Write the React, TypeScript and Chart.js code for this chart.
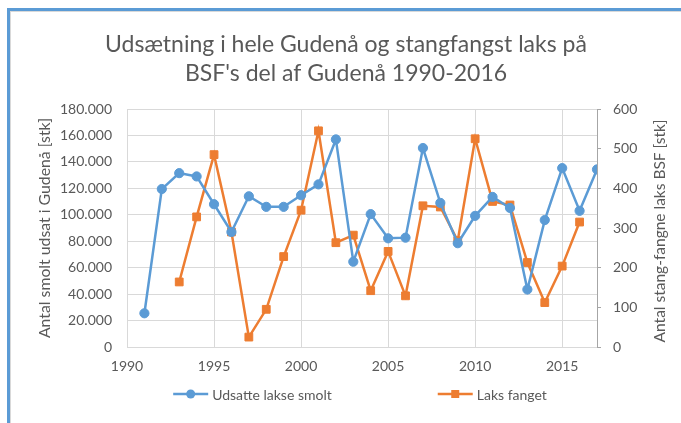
import React, { useEffect, useRef } from 'react';
import { Chart, registerables } from 'chart.js';

Chart.register(...registerables);

const chartTitle = ['Udsætning i hele Gudenå og stangfangst laks på', "BSF's del af Gudenå 1990-2016"];
const leftAxisTitle = 'Antal smolt udsat i Gudenå [stk]';
const rightAxisTitle = 'Antal stang-fangne laks BSF [stk]';
const smoltLabel = 'Udsatte lakse smolt';
const laksLabel = 'Laks fanget';

const smoltYears = [1991, 1992, 1993, 1994, 1995, 1996, 1997, 1998, 1999, 2000, 2001, 2002, 2003, 2004, 2005, 2006, 2007, 2008, 2009, 2010, 2011, 2012, 2013, 2014, 2015, 2016, 2017];
const smoltValues = [25500, 119500, 131500, 129000, 108000, 87000, 114000, 106000, 106000, 114800, 123000, 157000, 64500, 100500, 82200, 82700, 150500, 109000, 78500, 99200, 113500, 105200, 43500, 96000, 135300, 103000, 134300];

const laksYears = [1993, 1994, 1995, 1996, 1997, 1998, 1999, 2000, 2001, 2002, 2003, 2004, 2005, 2006, 2007, 2008, 2009, 2010, 2011, 2012, 2013, 2014, 2015, 2016];
const laksValues = [164, 328, 485, 290, 25, 95, 228, 345, 545, 263, 282, 142, 241, 129, 356, 353, 268, 525, 367, 358, 213, 112, 204, 315];

const xTickValues = [1990, 1995, 2000, 2005, 2010, 2015];
const xMin = 1990;
const xMax = 2017;
const leftMax = 180000;
const leftStep = 20000;
const rightMax = 600;
const rightStep = 100;

const BLUE = '#5B9BD5';
const ORANGE = '#ED7D31';
const TEXT = '#595959';
const GRID = '#D9D9D9';
const FONT = 'Lato';

const fmtThousands = (v: number) => String(v).replace(/\B(?=(\d{3})+(?!\d))/g, '.');

const extrasPlugin = {
  id: 'extras',
  afterDraw(chart: any) {
    const ctx = chart.ctx;
    const ca = chart.chartArea;
    ctx.save();
    // right axis title (reads bottom-to-top)
    ctx.fillStyle = TEXT;
    ctx.font = `15.5px ${FONT}`;
    ctx.textAlign = 'center';
    ctx.textBaseline = 'middle';
    ctx.translate(649, (ca.top + ca.bottom) / 2 + 3);
    ctx.rotate(-Math.PI / 2);
    ctx.fillText(rightAxisTitle, 0, 0);
    ctx.restore();

    // legend
    ctx.save();
    ctx.font = `14px ${FONT}`;
    ctx.textBaseline = 'middle';
    ctx.textAlign = 'left';
    const ds = chart.data.datasets;
    const lineLen = 35;
    const textGap = 4;
    const itemGap = 106;
    const widths = ds.map((d: any) => lineLen + textGap + ctx.measureText(d.label).width);
    const total = widths.reduce((a: number, b: number) => a + b, 0) + itemGap * (ds.length - 1);
    let x = (ca.left + ca.right) / 2 - 2 - total / 2;
    const y = 382;
    ds.forEach((d: any, i: number) => {
      ctx.strokeStyle = d.borderColor;
      ctx.lineWidth = 2.5;
      ctx.beginPath();
      ctx.moveTo(x, y);
      ctx.lineTo(x + lineLen, y);
      ctx.stroke();
      ctx.fillStyle = d.borderColor;
      const cx = x + lineLen / 2;
      if (d.pointStyle === 'rect') {
        ctx.fillRect(cx - 4, y - 4, 8, 8);
      } else {
        ctx.beginPath();
        ctx.arc(cx, y, 4.5, 0, Math.PI * 2);
        ctx.fill();
      }
      ctx.fillStyle = TEXT;
      ctx.fillText(d.label, x + lineLen + textGap, y + 1);
      x += widths[i] + itemGap;
    });
    ctx.restore();
  },
};

export default function App() {
  const canvasRef = useRef<HTMLCanvasElement | null>(null);

  useEffect(() => {
    const canvas = canvasRef.current;
    if (!canvas) return;
    const chart = new Chart(canvas, {
      type: 'line',
      data: {
        datasets: [
          {
            label: smoltLabel,
            data: smoltYears.map((yr, i) => ({ x: yr, y: smoltValues[i] })),
            yAxisID: 'y',
            borderColor: BLUE,
            backgroundColor: BLUE,
            borderWidth: 2.5,
            pointStyle: 'circle',
            pointRadius: 4.6,
            pointBorderWidth: 1,
            pointBackgroundColor: BLUE,
            pointBorderColor: BLUE,
            tension: 0,
          },
          {
            label: laksLabel,
            data: laksYears.map((yr, i) => ({ x: yr, y: laksValues[i] })),
            yAxisID: 'y2',
            borderColor: ORANGE,
            backgroundColor: ORANGE,
            borderWidth: 2.5,
            pointStyle: 'rect',
            pointRadius: 5.5,
            pointBorderWidth: 1,
            pointBackgroundColor: ORANGE,
            pointBorderColor: ORANGE,
            tension: 0,
          },
        ],
      },
      options: {
        responsive: false,
        animation: false,
        layout: { padding: { left: 0, right: 0, top: 0, bottom: 47 } },
        plugins: {
          legend: { display: false },
          tooltip: { enabled: false },
          title: {
            display: true,
            text: chartTitle,
            color: TEXT,
            font: { family: FONT, size: 23, weight: 'normal', lineHeight: 1.22 },
            padding: { top: 19, bottom: 21.9 },
          },
        },
        scales: {
          x: {
            type: 'linear',
            min: xMin,
            max: xMax,
            afterBuildTicks: (scale: any) => {
              scale.ticks = xTickValues.map((v) => ({ value: v }));
            },
            afterFit: (scale: any) => {
              scale.height = 29;
            },
            ticks: {
              color: TEXT,
              font: { family: FONT, size: 14 },
              padding: 11,
              maxRotation: 0,
              autoSkip: false,
              callback: (v: any) => String(v),
            },
            grid: { color: GRID, lineWidth: 1, drawTicks: false },
            border: { color: GRID, width: 1 },
          },
          y: {
            position: 'left',
            min: 0,
            max: leftMax,
            afterFit: (scale: any) => {
              scale.width = 116;
            },
            ticks: {
              stepSize: leftStep,
              color: TEXT,
              font: { family: FONT, size: 14 },
              padding: 15,
              callback: (v: any) => fmtThousands(Number(v)),
            },
            grid: { color: GRID, lineWidth: 1, drawTicks: false },
            border: { color: GRID, width: 1 },
            title: {
              display: true,
              text: leftAxisTitle,
              color: TEXT,
              font: { family: FONT, size: 15.8, lineHeight: 1.2 },
              padding: { top: 24, bottom: 0 },
            },
          },
          y2: {
            position: 'right',
            min: 0,
            max: rightMax,
            afterFit: (scale: any) => {
              scale.width = 84;
            },
            ticks: {
              stepSize: rightStep,
              color: TEXT,
              font: { family: FONT, size: 14 },
              padding: 12,
            },
            grid: {
              drawOnChartArea: false,
              drawTicks: true,
              tickLength: 4,
              color: '#A6A6A6',
            },
            border: { color: '#A6A6A6', width: 1 },
          },
        },
      },
      plugins: [extrasPlugin],
    } as any);
    return () => chart.destroy();
  }, []);

  return (
    <div
      style={{
        position: 'fixed',
        left: 7,
        top: 8,
        width: 674,
        height: 415,
        boxSizing: 'border-box',
        borderTop: `3px solid ${BLUE}`,
        borderLeft: `3px solid ${BLUE}`,
        background: '#fff',
        overflow: 'hidden',
      }}
    >
      <div
        style={{
          boxSizing: 'border-box',
          width: '100%',
          height: '100%',
          borderTop: `1px solid ${GRID}`,
          borderLeft: `1px solid ${GRID}`,
        }}
      >
        <canvas ref={canvasRef} width={670} height={411} style={{ display: 'block', width: 670, height: 411 }} />
      </div>
    </div>
  );
}
